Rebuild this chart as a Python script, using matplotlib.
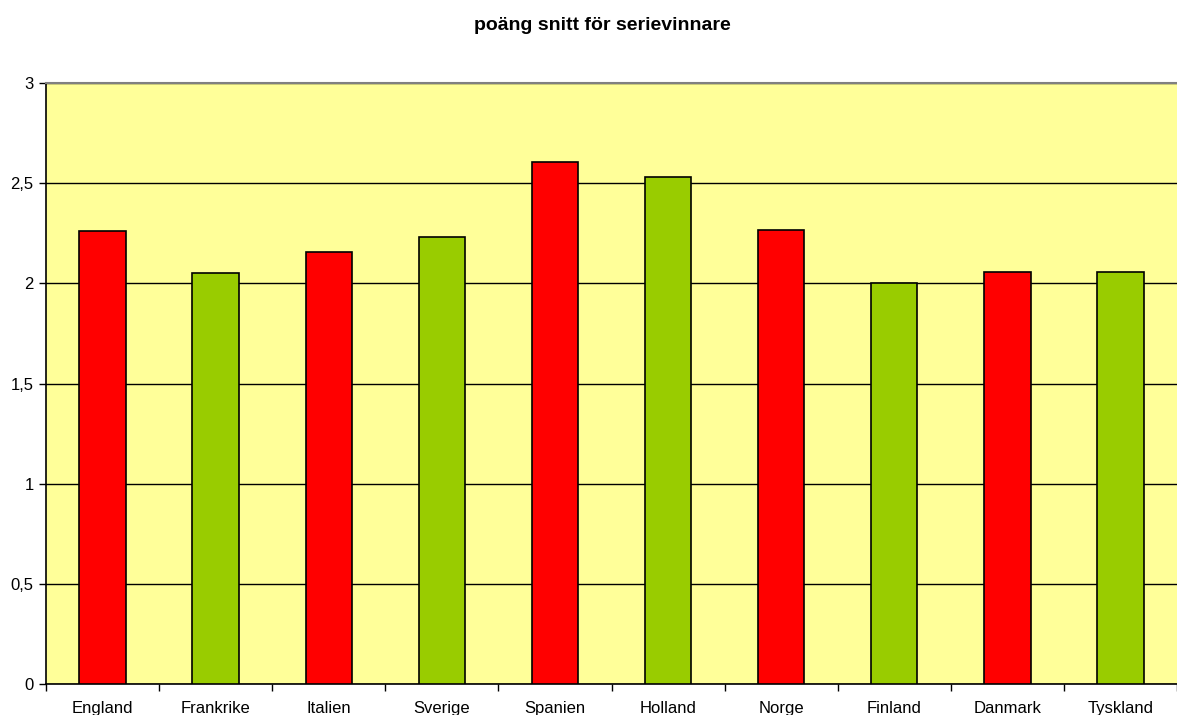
import numpy as np
import matplotlib
matplotlib.use("Agg")
import matplotlib.pyplot as plt

plt.rcParams["font.family"] = ["Liberation Sans", "DejaVu Sans"]

countries = ["England", "Frankrike", "Italien", "Sverige", "Spanien",
             "Holland", "Norge", "Finland", "Danmark", "Tyskland"]
points = [2.263, 2.052, 2.156, 2.233, 2.605, 2.530, 2.264, 2.002, 2.058, 2.056]
bar_colors = ["#FF0000", "#99CC00"] * 5

fig = plt.figure(figsize=(11.77, 7.15), dpi=100)
W, H = 1177, 715
ax = fig.add_axes([46 / W, (H - 684) / H, (1177 - 46) / W, (684 - 83) / H])
ax.set_facecolor("#FFFF99")

x = np.arange(len(countries))
ax.bar(x, points, width=0.41, color=bar_colors, edgecolor="black",
       linewidth=1.2, zorder=3)

ax.set_xlim(-0.5, len(countries) - 0.5)
ax.set_ylim(0, 3)
ax.set_yticks(np.arange(0, 3.01, 0.5))
ax.set_yticklabels(["0", "0,5", "1", "1,5", "2", "2,5", "3"], fontsize=12)
ax.yaxis.grid(True, color="black", linewidth=1, zorder=1)

ax.set_xticks(x)
ax.set_xticklabels(countries, fontsize=12)
ax.set_xticks(np.arange(-0.5, len(countries), 1), minor=True)
ax.tick_params(axis="x", which="major", length=0, pad=12)
ax.tick_params(axis="x", which="minor", length=5, width=1, direction="out")
ax.tick_params(axis="y", length=5, width=1, direction="out", pad=4)

ax.spines["right"].set_visible(False)
ax.spines["top"].set_color("#808080")
ax.spines["top"].set_linewidth(1.5)
ax.spines["left"].set_linewidth(1.2)
ax.spines["bottom"].set_linewidth(1.2)

fig.text(602 / W, 1 - 25 / H, "poäng snitt för serievinnare", ha="center",
         va="center", fontsize=14, fontweight="bold")

fig.savefig("out.png", dpi=100)
